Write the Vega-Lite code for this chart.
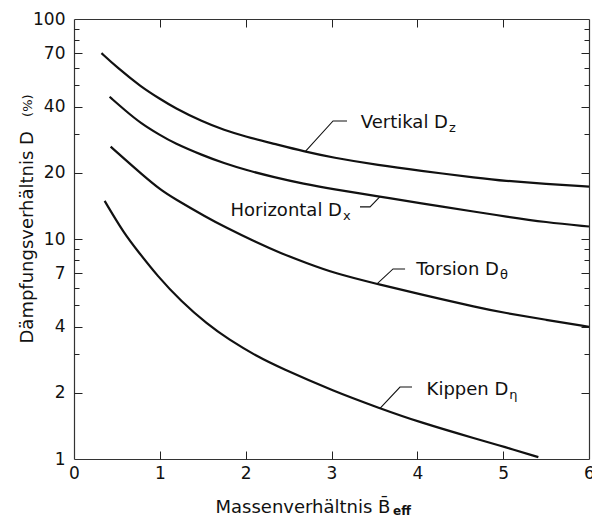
{
  "$schema": "https://vega.github.io/schema/vega-lite/v6.json",
  "width": 515,
  "height": 440,
  "autosize": {"type": "none"},
  "padding": {"left": 74, "top": 19, "right": 3, "bottom": 59},
  "background": "white",
  "config": {
    "view": {"stroke": null},
    "axis": {"grid": false, "labelColor": "#111", "titleColor": "#111", "titleFontWeight": "normal", "labelFlush": false, "labelOverlap": false}
  },
  "datasets": {
    "curves": [
      {"series": "V", "x": 0.32, "y": 70}, {"series": "V", "x": 0.5, "y": 60.3}, {"series": "V", "x": 0.78, "y": 49.2}, {"series": "V", "x": 1.0, "y": 43.4}, {"series": "V", "x": 1.165, "y": 39.6}, {"series": "V", "x": 1.5, "y": 34.1}, {"series": "V", "x": 1.748, "y": 31.3}, {"series": "V", "x": 2.0, "y": 29.2}, {"series": "V", "x": 2.33, "y": 27.1}, {"series": "V", "x": 2.68, "y": 25.0}, {"series": "V", "x": 3.0, "y": 23.5}, {"series": "V", "x": 3.565, "y": 21.6}, {"series": "V", "x": 4.0, "y": 20.5}, {"series": "V", "x": 4.73, "y": 18.9}, {"series": "V", "x": 5.0, "y": 18.4}, {"series": "V", "x": 5.5, "y": 17.8}, {"series": "V", "x": 6.0, "y": 17.3},
      {"series": "H", "x": 0.415, "y": 44.3}, {"series": "H", "x": 0.6, "y": 38.3}, {"series": "H", "x": 0.777, "y": 33.6}, {"series": "H", "x": 1.0, "y": 29.7}, {"series": "H", "x": 1.165, "y": 27.3}, {"series": "H", "x": 1.5, "y": 24.0}, {"series": "H", "x": 1.748, "y": 22.1}, {"series": "H", "x": 2.0, "y": 20.6}, {"series": "H", "x": 2.33, "y": 19.1}, {"series": "H", "x": 2.68, "y": 17.8}, {"series": "H", "x": 3.0, "y": 16.9}, {"series": "H", "x": 3.565, "y": 15.6}, {"series": "H", "x": 4.0, "y": 14.6}, {"series": "H", "x": 4.73, "y": 13.2}, {"series": "H", "x": 5.0, "y": 12.7}, {"series": "H", "x": 5.5, "y": 11.9}, {"series": "H", "x": 6.0, "y": 11.4},
      {"series": "T", "x": 0.427, "y": 26.3}, {"series": "T", "x": 0.6, "y": 22.9}, {"series": "T", "x": 0.777, "y": 19.9}, {"series": "T", "x": 1.01, "y": 16.7}, {"series": "T", "x": 1.165, "y": 15.3}, {"series": "T", "x": 1.553, "y": 12.5}, {"series": "T", "x": 1.748, "y": 11.4}, {"series": "T", "x": 2.136, "y": 9.6}, {"series": "T", "x": 2.4, "y": 8.65}, {"series": "T", "x": 2.718, "y": 7.75}, {"series": "T", "x": 3.03, "y": 7.0}, {"series": "T", "x": 3.527, "y": 6.25}, {"series": "T", "x": 4.0, "y": 5.65}, {"series": "T", "x": 4.73, "y": 4.86}, {"series": "T", "x": 5.0, "y": 4.63}, {"series": "T", "x": 5.5, "y": 4.29}, {"series": "T", "x": 6.0, "y": 3.99},
      {"series": "K", "x": 0.357, "y": 14.9}, {"series": "K", "x": 0.583, "y": 10.6}, {"series": "K", "x": 0.75, "y": 8.75}, {"series": "K", "x": 0.97, "y": 6.8}, {"series": "K", "x": 1.25, "y": 5.2}, {"series": "K", "x": 1.553, "y": 4.1}, {"series": "K", "x": 1.8, "y": 3.5}, {"series": "K", "x": 2.136, "y": 2.92}, {"series": "K", "x": 2.4, "y": 2.6}, {"series": "K", "x": 3.03, "y": 2.03}, {"series": "K", "x": 3.565, "y": 1.70}, {"series": "K", "x": 4.0, "y": 1.48}, {"series": "K", "x": 4.73, "y": 1.22}, {"series": "K", "x": 5.0, "y": 1.14}, {"series": "K", "x": 5.41, "y": 1.02}
    ],
    "leaders": [
      {"series": "V", "o": 1, "x": 3.181, "y": 34.4}, {"series": "V", "o": 2, "x": 3.018, "y": 34.4}, {"series": "V", "o": 3, "x": 2.691, "y": 24.9},
      {"series": "H", "o": 1, "x": 3.332, "y": 14.0}, {"series": "H", "o": 2, "x": 3.449, "y": 14.0}, {"series": "H", "o": 3, "x": 3.565, "y": 15.6},
      {"series": "T", "o": 1, "x": 3.857, "y": 7.31}, {"series": "T", "o": 2, "x": 3.717, "y": 7.31}, {"series": "T", "o": 3, "x": 3.53, "y": 6.25},
      {"series": "K", "o": 1, "x": 3.938, "y": 2.124}, {"series": "K", "o": 2, "x": 3.798, "y": 2.124}, {"series": "K", "o": 3, "x": 3.565, "y": 1.70}
    ],
    "labels": [
      {"series": "V", "x": 4.357, "y": 31.96, "label": "Vertikal D", "sub": "z"},
      {"series": "H", "x": 3.122, "y": 12.72, "label": "Horizontal D", "sub": "x"},
      {"series": "T", "x": 4.95, "y": 6.86, "label": "Torsion D", "sub": "θ"},
      {"series": "K", "x": 5.06, "y": 1.954, "label": "Kippen D", "sub": "η"}
    ],
    "pct": [{"x": -0.489, "y": 35.9, "t": "(%)"}],
    "eff": [{"x": 3.717, "y": 0.556, "t": "eff"}]
  },
  "resolve": {"scale": {"x": "shared", "y": "shared"}, "axis": {"x": "independent", "y": "independent"}},
  "layer": [
    {
      "data": {"name": "curves"},
      "mark": {"type": "line", "color": "#111", "strokeWidth": 2.2, "interpolate": "basis"},
      "encoding": {
        "x": {"field": "x", "type": "quantitative",
          "scale": {"domain": [0, 6], "nice": false, "zero": false},
          "axis": {"orient": "bottom", "values": [0, 1, 2, 3, 4, 5, 6], "format": "d", "ticks": false, "domainColor": "#333", "domainWidth": 1.2, "labelPadding": 6, "labelFontSize": 17, "labelFont": "DejaVu Sans",
            "title": "Massenverhältnis B̄", "titleFont": "DejaVu Sans", "titleFontSize": 18, "titleX": 141, "titleY": 53, "titleAlign": "left", "titleBaseline": "alphabetic", "titleAngle": 0}},
        "y": {"field": "y", "type": "quantitative",
          "scale": {"type": "log", "domain": [1, 100], "nice": false},
          "axis": {"orient": "left", "values": [1, 2, 4, 7, 10, 20, 40, 70, 100], "format": "d", "ticks": false, "domainColor": "#333", "domainWidth": 1.2, "labelPadding": 9, "labelFontSize": 17, "labelFont": "DejaVu Sans",
            "title": "Dämpfungsverhältnis D", "titleFont": "DejaVu Sans", "titleFontSize": 18, "titleX": -42, "titleY": 324, "titleAlign": "left", "titleBaseline": "alphabetic", "titleAngle": 270}},
        "detail": {"field": "series"}
      }
    },
    {
      "data": {"name": "leaders"},
      "mark": {"type": "line", "color": "#111", "strokeWidth": 1.1},
      "encoding": {
        "x": {"field": "x", "type": "quantitative", "scale": {"domain": [0, 6], "nice": false, "zero": false}, "axis": null},
        "y": {"field": "y", "type": "quantitative", "scale": {"type": "log", "domain": [1, 100], "nice": false}, "axis": null},
        "detail": {"field": "series"},
        "order": {"field": "o"}
      }
    },
    {
      "data": {"name": "labels"},
      "mark": {"type": "text", "align": "right", "baseline": "alphabetic", "font": "DejaVu Sans", "fontSize": 18, "color": "#111"},
      "encoding": {
        "x": {"field": "x", "type": "quantitative", "axis": null},
        "y": {"field": "y", "type": "quantitative", "axis": null},
        "text": {"field": "label"}
      }
    },
    {
      "data": {"name": "labels"},
      "mark": {"type": "text", "align": "left", "baseline": "alphabetic", "font": "DejaVu Sans", "fontSize": 13, "dx": 1, "dy": 4, "color": "#111"},
      "encoding": {
        "x": {"field": "x", "type": "quantitative", "axis": null},
        "y": {"field": "y", "type": "quantitative", "axis": null},
        "text": {"field": "sub"}
      }
    },
    {
      "data": {"name": "pct"},
      "mark": {"type": "text", "align": "left", "baseline": "alphabetic", "font": "DejaVu Sans", "fontSize": 13, "angle": 270, "color": "#111"},
      "encoding": {
        "x": {"field": "x", "type": "quantitative", "axis": null},
        "y": {"field": "y", "type": "quantitative", "axis": null},
        "text": {"field": "t"}
      }
    },
    {
      "data": {"name": "eff"},
      "mark": {"type": "text", "align": "left", "baseline": "alphabetic", "font": "DejaVu Sans", "fontSize": 12, "fontWeight": "bold", "color": "#111"},
      "encoding": {
        "x": {"field": "x", "type": "quantitative", "axis": null},
        "y": {"field": "y", "type": "quantitative", "axis": null},
        "text": {"field": "t"}
      }
    },
    {
      "data": {"name": "curves"},
      "mark": {"type": "point", "opacity": 0},
      "encoding": {
        "x": {"field": "x", "type": "quantitative",
          "axis": {"orient": "top", "offset": -440, "values": [1, 2, 3, 4, 5], "tickSize": 8, "tickColor": "#222", "tickWidth": 1, "labels": true, "labelOpacity": 0, "domain": false, "title": null}},
        "y": {"field": "y", "type": "quantitative",
          "axis": {"orient": "right", "offset": -515, "values": [2, 4, 7, 10, 20, 40, 70], "tickSize": 8, "tickColor": "#222", "tickWidth": 1, "labels": true, "labelOpacity": 0, "domain": false, "title": null}}
      }
    },
    {
      "data": {"name": "curves"},
      "mark": {"type": "point", "opacity": 0},
      "encoding": {
        "x": {"field": "x", "type": "quantitative",
          "axis": {"orient": "bottom", "offset": -440, "values": [1, 2, 3, 4, 5], "tickSize": 8, "tickColor": "#222", "tickWidth": 1, "labels": true, "labelOpacity": 0, "domain": true, "domainColor": "#333", "domainWidth": 1.2, "title": null}},
        "y": {"field": "y", "type": "quantitative",
          "axis": {"orient": "right", "offset": -515, "values": [3, 5, 6, 8, 9, 30, 50, 60, 80, 90], "tickSize": 5, "tickColor": "#222", "tickWidth": 1, "labels": true, "labelOpacity": 0, "domain": false, "title": null}}
      }
    },
    {
      "data": {"name": "curves"},
      "mark": {"type": "point", "opacity": 0},
      "encoding": {
        "x": {"field": "x", "type": "quantitative", "axis": null},
        "y": {"field": "y", "type": "quantitative",
          "axis": {"orient": "left", "offset": -515, "values": [2, 4, 7, 10, 20, 40, 70], "tickSize": 8, "tickColor": "#222", "tickWidth": 1, "labels": true, "labelOpacity": 0, "domain": true, "domainColor": "#333", "domainWidth": 1.2, "title": null}}
      }
    },
    {
      "data": {"name": "curves"},
      "mark": {"type": "point", "opacity": 0},
      "encoding": {
        "x": {"field": "x", "type": "quantitative", "axis": null},
        "y": {"field": "y", "type": "quantitative",
          "axis": {"orient": "left", "offset": -515, "values": [3, 5, 6, 8, 9, 30, 50, 60, 80, 90], "tickSize": 5, "tickColor": "#222", "tickWidth": 1, "labels": true, "labelOpacity": 0, "domain": false, "title": null}}
      }
    }
  ]
}
